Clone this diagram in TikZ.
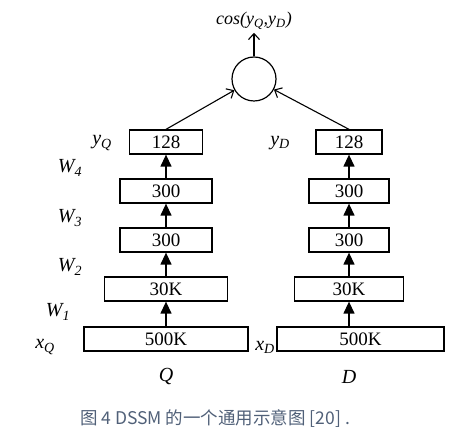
\documentclass[tikz,border=0pt]{standalone}
\usepackage{fontspec}
\setmainfont{Liberation Serif}
\newfontfamily\cjk{Noto Sans CJK SC}
\usetikzlibrary{arrows.meta}
\definecolor{capblue}{RGB}{80,96,120}
\tikzset{
  layer/.style={draw, line width=1.3pt, inner sep=0pt, minimum height=24pt, font=\fontsize{19}{20}\selectfont},
  lbl/.style={inner sep=0pt, font=\fontsize{20}{22}\selectfont\itshape},
  up/.style={line width=1.3pt, -{Triangle[length=12pt,width=11pt]}},
  tosim/.style={line width=1.1pt, -{Straight Barb[length=6pt,width=11pt]}}
}
\begin{document}
\begin{tikzpicture}[x=1pt,y=-1pt]
\useasboundingbox (0,0) rectangle (466,443);
% two towers: query and document
\foreach \s/\cx/\bx/\wone/\wtwo/\wthree/\wfour in {Q/166/166/164/123/92/73, D/349/360.5/167/109/80/66} {
  \node[layer, minimum width=\wone] (\s1) at (\bx,339) {500K};
  \node[layer, minimum width=\wtwo] (\s2) at (\cx,289) {30K};
  \node[layer, minimum width=\wthree] (\s3) at (\cx,240) {300};
  \node[layer, minimum width=\wthree] (\s4) at (\cx,191) {300};
  \node[layer, minimum width=\wfour] (\s5) at (\cx,142) {128};
  \foreach \i/\j in {1/2,2/3,3/4,4/5}
    \draw[up] (\s\j.south |- \s\i.north) -- (\s\j.south);
  \node[lbl] (name\s) at (\cx,377) {\s};
}
% layer labels
\node[lbl] (yq) at (102,143) {y\textsubscript{Q}};
\node[lbl] (yd) at (280,143) {y\textsubscript{D}};
\node[lbl] (xq) at (45,347) {x\textsubscript{Q}};
\node[lbl] (xd) at (265,347) {x\textsubscript{D}};
\node[lbl] (w4) at (70,168) {W\textsubscript{4}};
\node[lbl] (w3) at (70,218) {W\textsubscript{3}};
\node[lbl] (w2) at (70,267) {W\textsubscript{2}};
\node[lbl] (w1) at (58,312) {W\textsubscript{1}};
% similarity
\node[draw, circle, line width=1.2pt, minimum size=44pt, inner sep=0pt] (sim) at (254,79) {};
\node[lbl, font=\fontsize{18}{20}\selectfont\itshape] (cosv) at (254,21) {cos(y\textsubscript{Q},y\textsubscript{D})};
\draw[tosim] (Q5.north) -- (sim);
\draw[tosim] (D5.north) -- (sim);
\draw[tosim] (sim.north) -- ([yshift=-3pt]cosv.south);
\node[font=\cjk\fontsize{17.5}{19}\selectfont, text=capblue, inner sep=0pt] (cap) at (215,419) {图 4 DSSM 的一个通用示意图 [20] .};
\end{tikzpicture}
\end{document}
